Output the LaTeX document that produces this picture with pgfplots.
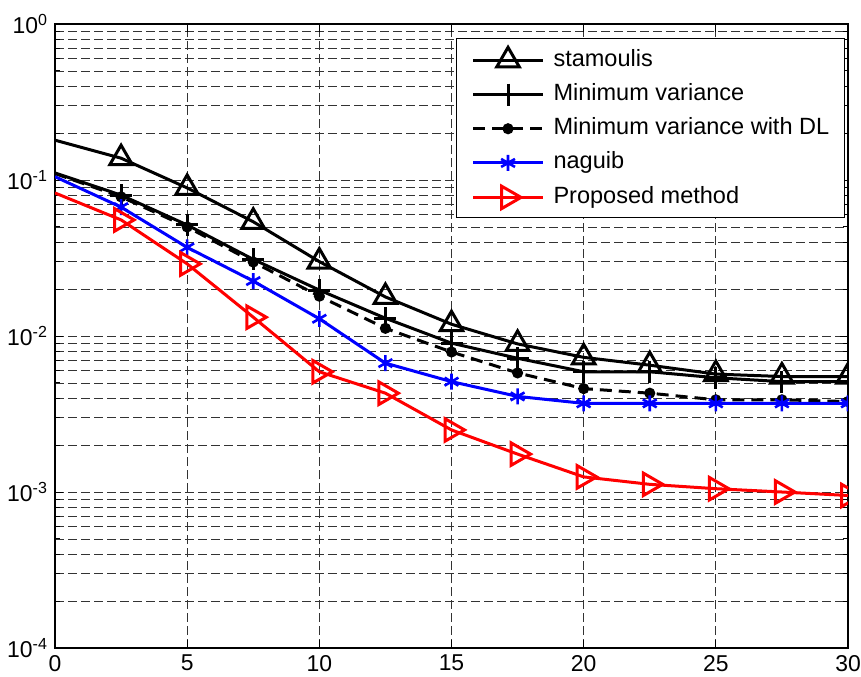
\documentclass[border=0pt]{standalone}
\usepackage{pgfplots}
\pgfplotsset{compat=1.18}
\usepackage{fontspec}
\setmainfont{Liberation Sans}

\begin{document}
\begin{tikzpicture}
\begin{axis}[
    scale only axis,
    width=396.5bp, height=312bp,
    xmin=0, xmax=30,
    ymode=log, log basis y=10,
    ymin=1e-4, ymax=1,
    xtick={0,5,...,30},
    ytick={1e-4,1e-3,1e-2,1e-1,1},
    minor ytick={2e-4,3e-4,4e-4,5e-4,6e-4,7e-4,8e-4,9e-4,
                 2e-3,3e-3,4e-3,5e-3,6e-3,7e-3,8e-3,9e-3,
                 2e-2,3e-2,4e-2,5e-2,6e-2,7e-2,8e-2,9e-2,
                 0.2,0.3,0.4,0.5,0.6,0.7,0.8,0.9},
    yticklabels={10\textsuperscript{-4},10\textsuperscript{-3},10\textsuperscript{-2},10\textsuperscript{-1},10\textsuperscript{0}},
    xmajorgrids, ymajorgrids, yminorgrids,
    grid style={black!80, line width=0.45bp, dash pattern=on 4.5bp off 2bp},
    minor grid style={black!80, line width=0.45bp, dash pattern=on 4.5bp off 2bp},
    major grid style={black!80, line width=0.45bp, dash pattern=on 4.5bp off 2bp},
    tick align=inside,
    major tick length=4bp, minor tick length=2.5bp,
    tick style={black, line width=0.5bp},
    axis line style={black, line width=0.6bp},
    tick label style={font=\fontsize{11.5}{13}\selectfont},
    /pgf/number format/assume math mode=true,
    clip marker paths=true,
    legend cell align={left},
    legend style={
        at={(0.996,0.978)}, anchor=north east,
        font=\fontsize{11.8}{13}\selectfont,
        draw=black, line width=0.6bp,
        inner xsep=7.5bp, inner ysep=4.5bp,
        row sep=6.1bp,
        nodes={inner sep=0pt, text height=8.5bp, text depth=2.5bp},
        /tikz/column 2/.style={column sep=0pt},
        /tikz/column 1/.style={column sep=4.5bp},
    },
    legend image code/.code={
        \draw[mark indices={2}] plot coordinates {(0bp,0bp) (17.5bp,0bp) (35bp,0bp)};
    },
    every axis plot/.append style={mark indices={2,...,13}},
]
\addplot[black, line width=1.5bp, mark=triangle, mark size=6.5bp, mark options={solid}] coordinates {
    (0,0.18) (2.5,0.138) (5,0.089) (7.5,0.054) (10,0.030) (12.5,0.0178) (15,0.0119)
    (17.5,0.0089) (20,0.0073) (22.5,0.0065) (25,0.0057) (27.5,0.0055) (30,0.0055)
};
\addlegendentry{stamoulis}
\addplot[black, line width=1.5bp, mark=+, mark size=5.5bp, mark options={solid}] coordinates {
    (0,0.111) (2.5,0.080) (5,0.0515) (7.5,0.031) (10,0.0197) (12.5,0.013) (15,0.009)
    (17.5,0.0072) (20,0.0059) (22.5,0.0059) (25,0.0054) (27.5,0.0051) (30,0.0051)
};
\addlegendentry{Minimum variance}
\addplot[black, line width=1.5bp, dash pattern=on 6bp off 3.5bp, mark=*, mark size=2bp, mark options={solid}] coordinates {
    (0,0.11) (2.5,0.078) (5,0.05) (7.5,0.0298) (10,0.018) (12.5,0.0112) (15,0.0079)
    (17.5,0.0058) (20,0.0046) (22.5,0.0043) (25,0.0039) (27.5,0.0039) (30,0.0038)
};
\addlegendentry{Minimum variance with DL}
\addplot[blue, line width=1.5bp, mark=asterisk, mark size=4bp, mark options={solid, line width=1.3bp}] coordinates {
    (0,0.105) (2.5,0.067) (5,0.037) (7.5,0.0225) (10,0.0129) (12.5,0.0067) (15,0.0051)
    (17.5,0.0041) (20,0.0037) (22.5,0.0037) (25,0.0037) (27.5,0.0037) (30,0.0037)
};
\addlegendentry{naguib}
\addplot[red, line width=1.5bp, mark=triangle, mark size=6.5bp, mark options={solid, rotate=-90}] coordinates {
    (0,0.0826) (2.5,0.0555) (5,0.029) (7.5,0.0132) (10,0.0059) (12.5,0.0043) (15,0.0025)
    (17.5,0.00175) (20,0.00125) (22.5,0.00112) (25,0.00105) (27.5,0.00100) (30,0.00095)
};
\addlegendentry{Proposed method}
\end{axis}
\pgfresetboundingbox
\path[use as bounding box] (-27.5bp,-14.5bp) rectangle (403bp,324bp);
\end{tikzpicture}
\end{document}
